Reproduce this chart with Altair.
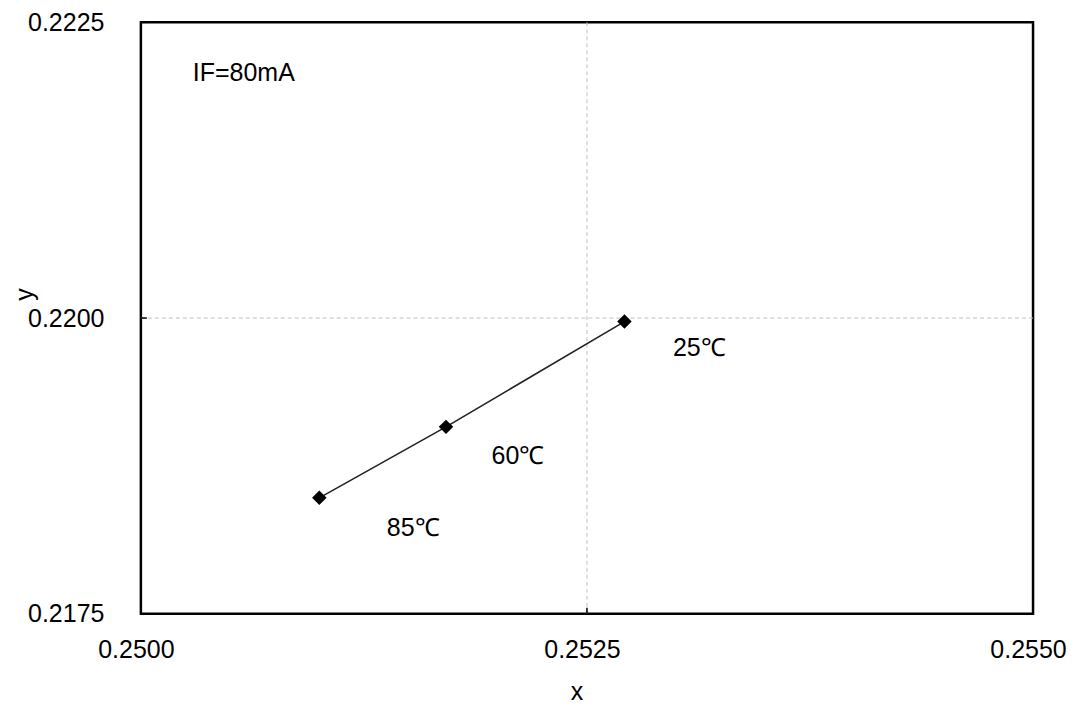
import altair as alt
import pandas as pd

# data
x_vals = [0.25271, 0.25171, 0.25100]
y_vals = [0.21997, 0.21908, 0.21848]
temps = ["25℃", "60℃", "85℃"]
x_ticks = [0.2500, 0.2525, 0.2550]
y_ticks = [0.2175, 0.2200, 0.2225]
note = "IF=80mA"

df = pd.DataFrame({"x": x_vals, "y": y_vals, "label": temps})
FONT = "Liberation Sans"
FS = 25

xs = alt.Scale(domain=[x_ticks[0], x_ticks[-1]], nice=False, zero=False)
ys = alt.Scale(domain=[y_ticks[0], y_ticks[-1]], nice=False, zero=False)

xaxis = alt.Axis(values=x_ticks, format=".4f", title="x", grid=False,
                 domain=False, ticks=False, labelPadding=24,
                 labelFlush=False, labelOverlap=False, labelFont=FONT, labelFontSize=FS,
                 labelColor="#000", labelOffset=-5, titleFont=FONT, titleFontSize=FS,
                 titleFontWeight="normal", titleColor="#000", titleX=436, titleY=78,
                 titleBaseline="middle")
yaxis = alt.Axis(values=y_ticks, format=".4f", title="y", grid=False,
                 domain=False, ticks=False, labelPadding=37,
                 labelFlush=False, labelOverlap=False, labelFont=FONT, labelFontSize=FS,
                 labelColor="#000", labelBaseline="middle", titleFont=FONT, titleFontSize=FS,
                 titleFontWeight="normal", titleColor="#000", titleX=-116, titleY=272,
                 titleAlign="center", titleBaseline="middle", titleAngle=270)

base = alt.Chart(df)

# dashed grid only at the inner tick values
gx = alt.Chart(pd.DataFrame({"v": x_ticks[1:-1]})).mark_rule(
    color="#c0c0c0", strokeDash=[4, 3], strokeWidth=1).encode(
    x=alt.X("v:Q", scale=xs, axis=xaxis), y=alt.value(0), y2=alt.value(592))
gy = alt.Chart(pd.DataFrame({"v": y_ticks[1:-1]})).mark_rule(
    color="#c0c0c0", strokeDash=[4, 3], strokeWidth=1).encode(
    y=alt.Y("v:Q", scale=ys, axis=yaxis), x=alt.value(0), x2=alt.value(893))

line = base.mark_line(color="#222222", strokeWidth=1.6).encode(
    x=alt.X("x:Q", scale=xs, axis=xaxis),
    y=alt.Y("y:Q", scale=ys, axis=yaxis),
)
pts = base.mark_point(shape="diamond", filled=True, color="#000", size=210, opacity=1).encode(
    x=alt.X("x:Q", scale=xs), y=alt.Y("y:Q", scale=ys)
)

offsets = [(75, 26), (72, 29), (94, 30)]
texts = []
for lab, (dx, dy) in zip(temps, offsets):
    texts.append(
        base.transform_filter(alt.datum.label == lab)
        .mark_text(font=FONT, fontSize=FS, color="#000", dx=dx, dy=dy, align="center", baseline="middle")
        .encode(x=alt.X("x:Q", scale=xs), y=alt.Y("y:Q", scale=ys), text="label:N")
    )

note_df = pd.DataFrame({"t": [note]})
note_mark = alt.Chart(note_df).mark_text(font=FONT, fontSize=FS, color="#000", align="left",
                                         baseline="middle").encode(
    x=alt.value(52), y=alt.value(51), text="t:N")

# inward ticks
xt = alt.Chart(pd.DataFrame({"v": x_ticks})).mark_rule(color="#000", strokeWidth=1.5).encode(
    x=alt.X("v:Q", scale=xs), y=alt.value(586), y2=alt.value(592))
yt = alt.Chart(pd.DataFrame({"v": y_ticks})).mark_rule(color="#000", strokeWidth=1.5).encode(
    y=alt.Y("v:Q", scale=ys), x=alt.value(0), x2=alt.value(6))

chart = alt.layer(gx, gy, line, pts, *texts, note_mark, xt, yt).properties(
    width=893, height=592,
    autosize=alt.AutoSizeParams(type="none"),
    padding={"left": 133, "top": 14, "right": 42, "bottom": 99},
    background="white",
).configure_view(stroke="#000", strokeWidth=2.5)

chart.save("out.html", embed_options={"renderer": "svg", "actions": False})
